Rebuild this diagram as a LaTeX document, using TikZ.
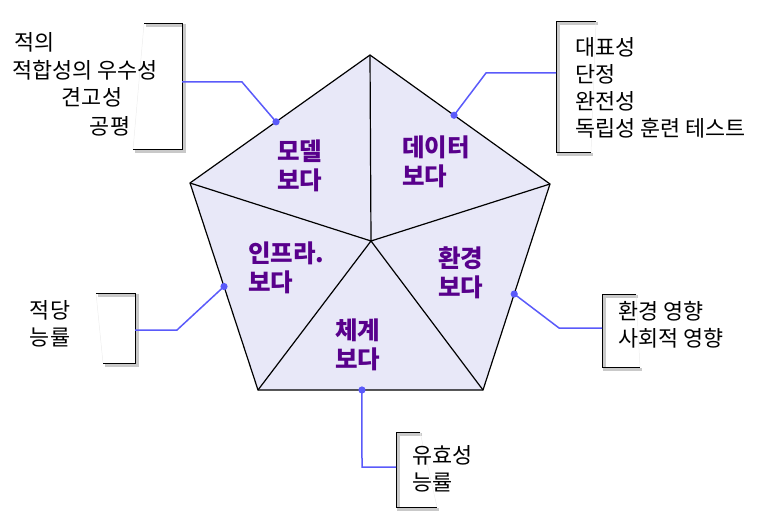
\documentclass[tikz,border=0pt]{standalone}
\usepackage{fontspec}
\setmainfont{Noto Sans CJK KR}
\usetikzlibrary{calc}
\definecolor{fillc}{RGB}{232,232,248}
\definecolor{linkc}{RGB}{90,90,250}
\definecolor{labc}{RGB}{88,0,140}
\begin{document}
\begin{tikzpicture}[x=1pt,y=-1pt,
 item/.style={font=\fontsize{21.8}{27}\selectfont, inner sep=0pt, anchor=west, align=left},
 sect/.style={font=\fontsize{24.5}{29.5}\bfseries\selectfont, text=labc, inner sep=0pt, anchor=west, align=left},
 link/.style={draw=linkc, line width=1.5pt},
 brk/.style={draw=black, line width=1pt},
 shd/.style={draw=black!30, line width=3pt, opacity=0.7},
 faint/.style={draw=black!7, line width=0.5pt},
 dotc/.style={fill=linkc},
 edge/.style={draw=black, line width=1.2pt, line join=miter},
]
\useasboundingbox (0,0) rectangle (773,513);
% pentagon
\coordinate (A) at (370,55);
\coordinate (B) at (550,184);
\coordinate (C) at (483,390);
\coordinate (D) at (258,390);
\coordinate (E) at (190,183);
\coordinate (O) at (371,241);
\fill[fillc] (A) -- (B) -- (C) -- (D) -- (E) -- cycle;
\draw[edge] (O) -- (A) (O) -- (B) (O) -- (C) (O) -- (D) (O) -- (E);
\draw[edge] (A) -- (B) -- (C) -- (D) -- (E) -- cycle;
% sector labels
\node[sect] (lm) at (277,166) {모델\\보다};
\node[sect] (ld) at (402,162) {데이터\\보다};
\node[sect] (li) at (248,268) {인프라.\\보다};
\node[sect] (le) at (438,273) {환경\\보다};
\node[sect] (ls) at (335,345) {체계\\보다};
% dots
\coordinate (p1) at ($(E)!0.478!(A)$);
\coordinate (p2) at ($(A)!0.467!(B)$);
\coordinate (p3) at ($(E)!0.5!(D)$);
\coordinate (p4) at ($(B)!0.534!(C)$);
\coordinate (p5) at ($(D)!0.462!(C)$);
% bends and bracket attach points
\coordinate (k1) at (242,82);  \coordinate (b1) at (182,82);
\coordinate (k2) at (486,73);  \coordinate (b2) at (556,73);
\coordinate (k3) at (177,330); \coordinate (b3) at (135,330);
\coordinate (k4) at (559,328); \coordinate (b4) at (602,328);
\coordinate (k5) at (362,467); \coordinate (b5) at (396,467);
% brackets: shadows
\begin{scope}[shift={(2,2)}]
\draw[shd] (144,24) -- (182,24) -- (182,150) -- (133,150);
\draw[shd] (596,22) -- (556,22) -- (556,153) -- (591,153);
\draw[shd] (96,293) -- (135,293) -- (135,363) -- (103,363);
\draw[shd] (636,294) -- (602,294) -- (602,367) -- (640,367);
\draw[shd] (420,432) -- (396,432) -- (396,507) -- (437,507);
\end{scope}
\draw[faint] (144,24) -- (133,150);
\draw[faint] (596,22) -- (591,153);
\draw[faint] (96,293) -- (103,363);
\draw[faint] (636,294) -- (640,367);
\draw[faint] (420,432) -- (437,507);
\draw[brk] (144,24) -- (182,24) -- (182,150) -- (133,150);
\draw[brk] (596,22) -- (556,22) -- (556,153) -- (591,153);
\draw[brk] (96,293) -- (135,293) -- (135,363) -- (103,363);
\draw[brk] (636,294) -- (602,294) -- (602,367) -- (640,367);
\draw[brk] (420,432) -- (396,432) -- (396,507) -- (437,507);
% connectors
\draw[link] (p1) -- (k1) -- (b1);
\draw[link] (p2) -- (k2) -- (b2);
\draw[link] (p3) -- (k3) -- (b3);
\draw[link] (p4) -- (k4) -- (b4);
\draw[link] (p5) -- (k5) -- (b5);
\foreach \p in {p1,p2,p3,p4,p5} \fill[dotc] (\p) circle (3.6);
% bracket texts
\node[item, anchor=center] (t1a) at (35,42) {적의};
\node[item, anchor=center] (t1b) at (85,70) {적합성의 우수성};
\node[item, anchor=center] (t1c) at (92,97) {견고성};
\node[item, anchor=center] (t1d) at (110,126) {공평};
\node[item] (t2) at (575,87.5) {대표성\\단정\\완전성\\독립성 훈련 테스트};
\node[item, anchor=center, align=center] (t3) at (50,324) {적당\\능률};
\node[item] (t4) at (618,325) {환경 영향\\사회적 영향};
\node[item] (t5) at (412,469) {유효성\\능률};
\end{tikzpicture}
\end{document}
